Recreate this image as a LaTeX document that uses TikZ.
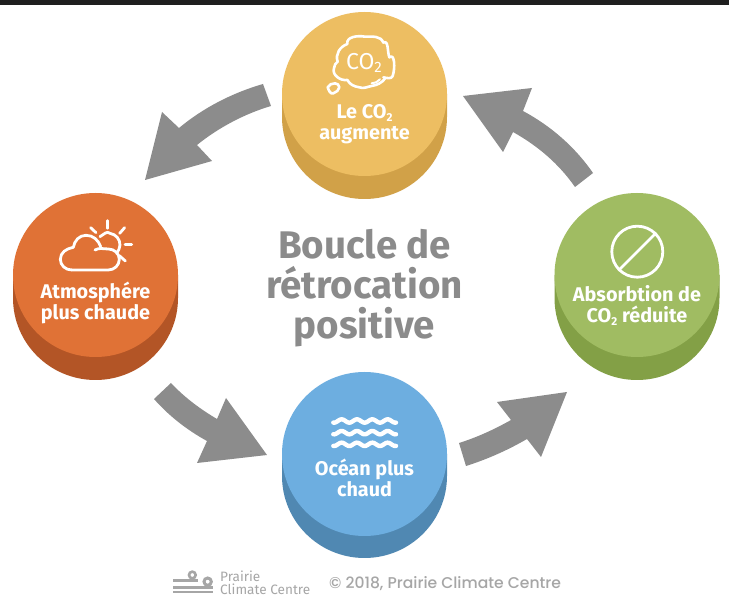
\documentclass[tikz,border=0pt]{standalone}
\usepackage{fontspec}
\setmainfont{Fira Sans}
\newfontfamily\footfont{Poppins Medium}
\newcommand{\subtwo}{{\fontsize{11.5}{10}\selectfont\raisebox{-2.8pt}{2}}}
\tikzset{
  disclabel/.style={text=white,font=\fontsize{19.8}{21}\selectfont\bfseries,align=center,anchor=base,inner sep=0pt},
  titletext/.style={text=titlegray,font=\fontsize{38.5}{40}\selectfont\bfseries,align=center,anchor=base,inner sep=0pt},
  iconline/.style={draw=white,line width=2.8pt,line cap=round,line join=round},
  footertext/.style={text=footgray,anchor=base west,inner sep=0pt},
  looparrow/.style={fill=arrowgray,draw=none},
}
\definecolor{titlegray}{HTML}{8B8B8B}
\definecolor{arrowgray}{HTML}{8C8C8C}
\definecolor{footgray}{HTML}{A6A6A6}
\definecolor{yellowtop}{HTML}{EDBE62}
\definecolor{yellowside}{HTML}{D1A148}
\definecolor{orangetop}{HTML}{E07236}
\definecolor{orangeside}{HTML}{B35526}
\definecolor{bluetop}{HTML}{6DAEE0}
\definecolor{blueside}{HTML}{5088B2}
\definecolor{greentop}{HTML}{A0BC62}
\definecolor{greenside}{HTML}{83A046}
\newcommand{\disc}[5]{% x, top-centre y, lower-centre y, top colour, side colour
  \fill[#5] (#1-82.5,#2) -- (#1-82.5,#3) arc[start angle=180,end angle=360,x radius=82.5,y radius=-82] -- (#1+82.5,#2) -- cycle;
  \fill[#4] (#1,#2) ellipse[x radius=82.5,y radius=82];
}
\begin{document}
\begin{tikzpicture}[x=1pt,y=-1pt]
\useasboundingbox (0,0) rectangle (729,601);
\fill[white] (0,0) rectangle (729,601);
\fill[black!88] (0,0) rectangle (729,5);

% discs
\disc{364.5}{94}{117}{yellowtop}{yellowside}
\disc{95.5}{275}{298}{orangetop}{orangeside}
\disc{637}{275}{298}{greentop}{greenside}
\disc{364.5}{454}{476}{bluetop}{blueside}

% arrows
\fill[looparrow] (263,84) .. controls (232,93) and (203,108) .. (179,128) -- (162,112) -- (145,180) -- (212,161) -- (197,145) .. controls (218,128) and (244,114) .. (271,106) -- cycle;
\fill[looparrow] (593,173) .. controls (575,147) and (551,126) .. (523,111) -- (532,88) -- (463,96) -- (503,152) -- (513,132) .. controls (538,146) and (559,164) .. (575,187) -- cycle;
\fill[looparrow] (171,383) .. controls (184,397) and (200,409) .. (217,419) -- (226,398) -- (267,455) -- (197,463) -- (207,441) .. controls (187,430) and (169,416) .. (154,399) -- cycle;
\fill[looparrow] (459,443) .. controls (478,437) and (495,429) .. (511,420) -- (497,402) -- (567,392) -- (541,457) -- (527,439) .. controls (508,450) and (488,459) .. (466,466) -- cycle;

% title
\node[titletext] (title) at (364.5,339) {Boucle de\\rétrocation\\positive};

% labels
\node[disclabel] (co2) at (364.5,140) {Le CO\subtwo\\augmente};
\node[disclabel] (atm) at (95.5,320) {Atmosphére\\plus chaude};
\node[disclabel] (abs) at (637,323) {Absorbtion de\\CO\subtwo{} réduite};
\node[disclabel] (ocean) at (364.5,497) {Océan plus\\chaud};

% CO2 cloud icon
\begin{scope}[shift={(270,0)},x=0.3333pt,y=-0.3333pt]
  \draw[iconline,line width=2.6pt] (203,185) to[out=110,in=200] (232,132) to[out=100,in=170] (285,110) to[out=0,in=110] (340,128)
     to[out=30,in=110] (358,172) to[out=40,in=70] (368,228) to[out=-110,in=-10] (340,232);
  \draw[iconline,line width=2.6pt] (345,236) to[out=-130,in=10] (305,258) to[out=190,in=-20] (268,262) to[out=170,in=-60] (232,240) to[out=190,in=-110] (192,205) to[out=70,in=200] (203,185);
  \draw[iconline,line width=2pt] (305,250) to[out=-5,in=-140] (330,238);
  \draw[iconline,line width=2.6pt] (173,262) to[out=60,in=180] (195,250) to[out=0,in=90] (208,262) to[out=-90,in=30] (190,280) to[out=-160,in=-70] (173,262);
  \node[text=white,font=\fontsize{23}{23}\selectfont,anchor=base,inner sep=0pt] (co2lbl) at (282,208) {CO\raisebox{-3pt}{\fontsize{15}{15}\selectfont 2}};
\end{scope}

% cloud and sun icon
\begin{scope}[shift={(0,190)},x=0.3333pt,y=-0.3333pt]
  \draw[iconline] (215,240) -- (325,240) to[out=0,in=-90] (358,208) to[out=90,in=0] (325,177) to[out=180,in=30] (285,180);
  \draw[iconline] (215,240) to[out=180,in=-90] (181,208) to[out=90,in=190] (220,172) to[out=80,in=180] (258,136) to[out=0,in=110] (302,170);
  \draw[iconline] (300,140) to[out=30,in=135] (330,130) to[out=-10,in=90] (360,165) to[out=-90,in=60] (350,190);
  \draw[iconline] (323,92) -- (323,115);
  \draw[iconline] (374,113) -- (359,130);
  \draw[iconline] (272,113) -- (288,128);
  \draw[iconline] (375,163) -- (395,163);
  \draw[iconline] (358,197) -- (376,213);
\end{scope}

% no-entry icon
\node[circle,draw=white,line width=2.8pt,minimum size=51pt,inner sep=0pt] (nosign) at (637.3,251.7) {};
\draw[iconline,line cap=butt] (nosign.45) -- (nosign.225);

% waves icon
\begin{scope}[shift={(270,380)},x=0.3333pt,y=-0.3333pt]
  \foreach \yy in {123,158,193}{
    \draw[draw=white,line width=4.4pt,line cap=round] plot[domain=190:378,samples=60,smooth] (\x,{\yy-5*cos(7.826*(\x-215))});
  }
\end{scope}

% footer
\begin{scope}[shift={(160,560)},x=0.3333pt,y=-0.3333pt]
  \fill[footgray] (40,56) -- (115,56) -- (115,65) -- (40,65) -- cycle;
  \fill[footgray] (40,79) -- (158,79) -- (158,87) -- (40,87) -- cycle;
  \fill[footgray] (40,92) -- (158,92) -- (158,100) -- (40,100) -- cycle;
  \draw[footgray,line width=2.6pt] (97,45) circle[radius=10];
  \draw[footgray,line width=3pt] (143,65) circle[radius=11];
\end{scope}
\node[footertext,font=\fontsize{13.6}{15}\selectfont] (logotop) at (220,581.5) {Prairie};
\node[footertext,font=\fontsize{13.6}{15}\selectfont] (logobot) at (220,594.5) {Climate Centre};
\node[footertext,font=\footfont\fontsize{15.6}{15}\selectfont] (copyright) at (329,589) {© 2018, Prairie Climate Centre};
\end{tikzpicture}
\end{document}
